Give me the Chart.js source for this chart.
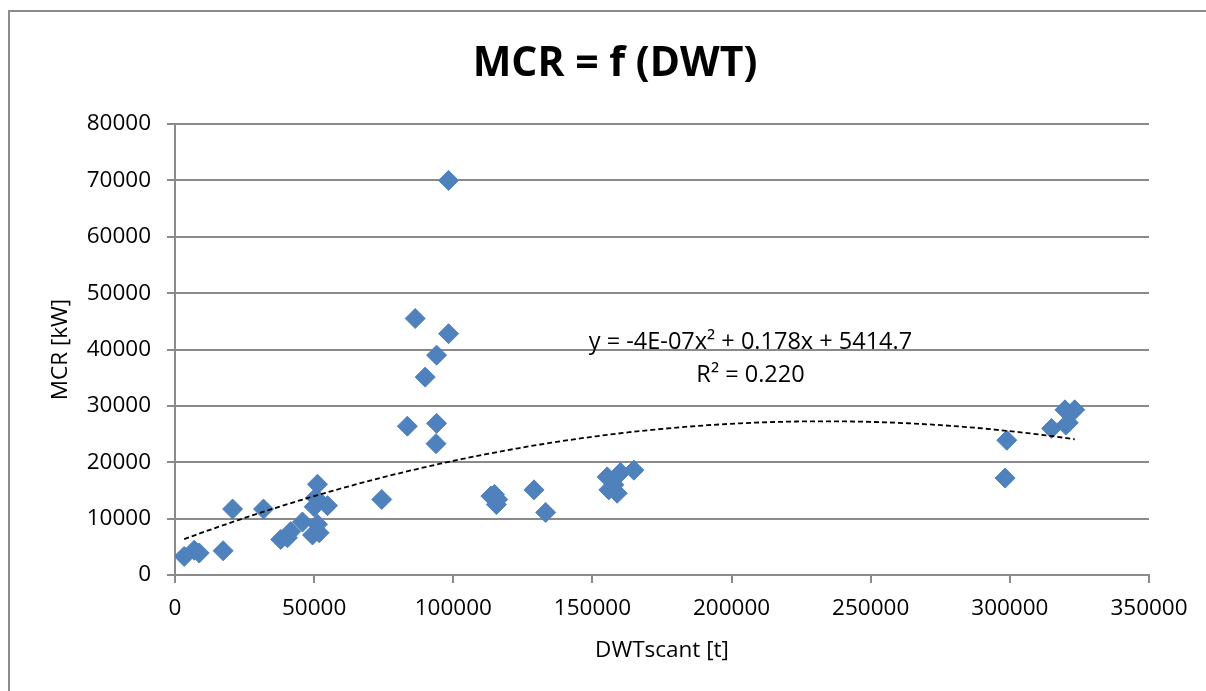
<!DOCTYPE html>
<html>
<head>
<meta charset="utf-8">
<script src="https://cdn.jsdelivr.net/npm/chart.js@4/dist/chart.umd.min.js"></script>
<style>
  html, body { margin: 0; padding: 0; background: #fff; overflow: hidden; }
  #wrap { position: relative; width: 1206px; height: 691px; }
</style>
</head>
<body>
<div id="wrap"><canvas id="c" width="1206" height="691"></canvas></div>
<script>
// ---- Data ----
const dwt = [3300, 6900, 8700, 17300, 20700, 31800, 38000, 40400, 41600, 45800,
             49400, 51800, 51200, 51200, 50000, 54800, 50500, 74300, 83500, 86300,
             89900, 94000, 94000, 93800, 98300, 98300, 113500, 114800, 115500, 116000,
             129000, 133200, 155300, 155900, 157700, 158900, 160100, 164900, 298900, 298300,
             315000, 320100, 319800, 323300, 321000];
const mcr = [3300, 4400, 3900, 4300, 11700, 11700, 6300, 6600, 7700, 9400,
             7100, 7500, 9000, 16100, 12100, 12300, 13700, 13400, 26400, 45500,
             35100, 39000, 26900, 23300, 70000, 42800, 14000, 14300, 12500, 13400,
             15100, 11100, 17400, 15100, 16000, 14500, 18200, 18600, 23900, 17200,
             26000, 26600, 29300, 29300, 27000];
const xTicks = [0, 50000, 100000, 150000, 200000, 250000, 300000, 350000];
const yTicks = [0, 10000, 20000, 30000, 40000, 50000, 60000, 70000, 80000];
const titleText = "MCR = f (DWT)";
const xTitle = "DWTscant [t]";
const yTitle = "MCR [kW]";
const eqLine1 = "y = -4E-07x\u00B2 + 0.178x + 5414.7";
const eqLine2 = "R\u00B2 = 0.220";

// ---- Quadratic least-squares trendline computed from the data ----
function quadFit(xs, ys) {
  let S = [0,0,0,0,0], T = [0,0,0];
  for (let i = 0; i < xs.length; i++) {
    const x = xs[i], y = ys[i];
    let p = 1;
    for (let k = 0; k < 5; k++) { S[k] += p; p *= x; }
    T[0] += y; T[1] += y * x; T[2] += y * x * x;
  }
  const A = [[S[0],S[1],S[2],T[0]],[S[1],S[2],S[3],T[1]],[S[2],S[3],S[4],T[2]]];
  for (let i = 0; i < 3; i++) {
    let m = i;
    for (let r = i+1; r < 3; r++) if (Math.abs(A[r][i]) > Math.abs(A[m][i])) m = r;
    [A[i], A[m]] = [A[m], A[i]];
    for (let r = 0; r < 3; r++) {
      if (r === i) continue;
      const f = A[r][i] / A[i][i];
      for (let c = i; c < 4; c++) A[r][c] -= f * A[i][c];
    }
  }
  return [A[0][3]/A[0][0], A[1][3]/A[1][1], A[2][3]/A[2][2]]; // c0, c1, c2
}
const coef = quadFit(dwt, mcr);
const xmin = Math.min(...dwt), xmax = Math.max(...dwt);
const trend = [];
for (let i = 0; i <= 80; i++) {
  const x = xmin + (xmax - xmin) * i / 80;
  trend.push({x: x, y: coef[0] + coef[1]*x + coef[2]*x*x});
}
const points = dwt.map((x, i) => ({x: x, y: mcr[i]}));

const FONT = "'Open Sans', 'Liberation Sans', sans-serif";
const GRID = '#8a8a8a';

const decor = {
  id: 'decor',
  beforeDraw(chart) {
    const ctx = chart.ctx;
    ctx.save();
    ctx.fillStyle = '#fff';
    ctx.fillRect(0, 0, chart.width, chart.height);
    ctx.strokeStyle = '#8c8c8c';
    ctx.lineWidth = 2;
    ctx.beginPath();
    ctx.moveTo(9, chart.height);
    ctx.lineTo(9, 11);
    ctx.lineTo(chart.width, 11);
    ctx.stroke();
    ctx.restore();
  },
  afterDraw(chart) {
    const ctx = chart.ctx;
    const xs = chart.scales.x, ys = chart.scales.y;
    ctx.save();
    ctx.fillStyle = '#000';
    ctx.textAlign = 'center';
    ctx.textBaseline = 'middle';
    ctx.font = "bold 41px " + FONT;
    ctx.fillText(titleText, 615, 64);
    ctx.font = "23.5px " + FONT;
    ctx.fillText(eqLine1, xs.getPixelForValue(206800), ys.getPixelForValue(41300));
    ctx.fillText(eqLine2, xs.getPixelForValue(206800), ys.getPixelForValue(35500));
    ctx.restore();
  }
};

new Chart(document.getElementById('c'), {
  type: 'scatter',
  data: {
    datasets: [
      {
        label: 'MCR',
        data: points,
        pointStyle: 'rectRot',
        pointRadius: 10,
        pointHoverRadius: 10,
        backgroundColor: '#4F81BD',
        borderColor: '#4F81BD',
        borderWidth: 1,
        order: 1
      },
      {
        label: 'Trend',
        type: 'line',
        data: trend,
        borderColor: '#000',
        borderWidth: 1.8,
        borderDash: [5, 3],
        pointRadius: 0,
        fill: false,
        tension: 0,
        order: 0
      }
    ]
  },
  options: {
    responsive: false,
    animation: false,
    devicePixelRatio: 1,
    layout: { padding: { top: 124, left: 0, right: 57, bottom: 0 } },
    plugins: {
      legend: { display: false },
      title: { display: false },
      tooltip: { enabled: false }
    },
    scales: {
      x: {
        type: 'linear',
        min: 0, max: 350000,
        afterBuildTicks(scale) { scale.ticks = xTicks.map(v => ({value: v})); },
        afterFit(scale) { scale.height = 116; },
        ticks: {
          font: { family: FONT, size: 22.5 },
          color: '#000',
          padding: 12,
          maxRotation: 0,
          callback: v => String(v)
        },
        grid: { drawOnChartArea: false, drawTicks: true, tickLength: 8, color: GRID, lineWidth: 2 },
        border: { display: true, color: GRID, width: 2 },
        title: { display: true, text: xTitle, color: '#000', font: { family: FONT, size: 22.5 }, padding: 27 }
      },
      y: {
        type: 'linear',
        min: 0, max: 80000,
        afterBuildTicks(scale) { scale.ticks = yTicks.map(v => ({value: v})); },
        afterFit(scale) { scale.width = 175; },
        ticks: {
          font: { family: FONT, size: 22.5 },
          color: '#000',
          padding: 16,
          callback: v => String(v)
        },
        grid: { drawTicks: true, tickLength: 8, color: GRID, lineWidth: 2 },
        border: { display: true, color: GRID, width: 2 },
        title: { display: true, text: yTitle, color: '#000', font: { family: FONT, size: 22.5 }, padding: 47 }
      }
    }
  },
  plugins: [decor]
});
</script>
</body>
</html>
